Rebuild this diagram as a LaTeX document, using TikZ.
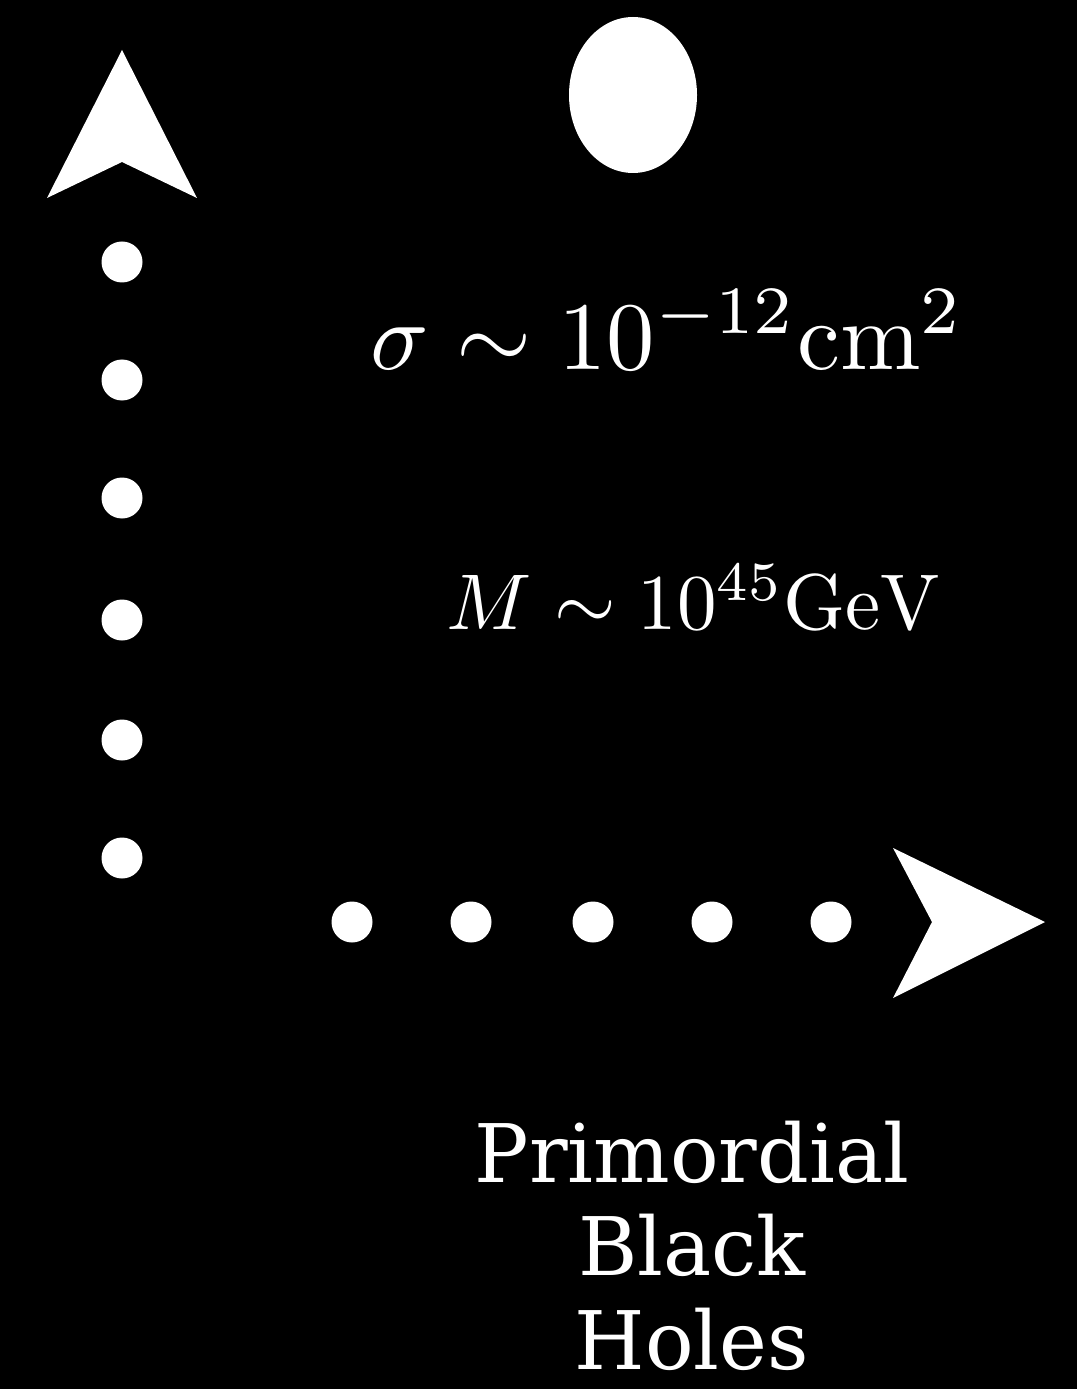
\documentclass[tikz,border=0pt]{standalone}
\usepackage{amsmath,amssymb}
\usepackage{fontspec}
\usetikzlibrary{shapes.geometric}
\newfontfamily\pbhfont{DejaVu Serif}
\begin{document}
\begin{tikzpicture}
\tikzstyle{dot}=[circle,fill=white,inner sep=0pt,minimum size=0.41cm]
\tikzstyle{label}=[text=white,inner sep=0pt,anchor=base,transform shape]
\fill[black] (0,0) rectangle (10.77,-13.89);
\useasboundingbox (0,0) rectangle (10.77,-13.89);
% up arrow head and dots
\fill[white] (1.22,-0.50) -- (1.97,-1.98) -- (1.22,-1.62) -- (0.47,-1.98) -- cycle;
\node[dot] (v1) at (1.22,-2.62) {};
\node[dot] (v2) at (1.22,-3.80) {};
\node[dot] (v3) at (1.22,-4.98) {};
\node[dot] (v4) at (1.22,-6.20) {};
\node[dot] (v5) at (1.22,-7.40) {};
\node[dot] (v6) at (1.22,-8.58) {};
% right arrow head and dots
\node[dot] (h1) at (3.52,-9.22) {};
\node[dot] (h2) at (4.71,-9.22) {};
\node[dot] (h3) at (5.93,-9.22) {};
\node[dot] (h4) at (7.12,-9.22) {};
\node[dot] (h5) at (8.31,-9.22) {};
\fill[white] (10.45,-9.22) -- (8.93,-8.48) -- (9.32,-9.22) -- (8.93,-9.98) -- cycle;
% the black hole
\node[ellipse,fill=white,minimum width=1.28cm,minimum height=1.56cm,inner sep=0pt] (bh) at (6.33,-0.95) {};
\node[label,scale=2.75] (sigma) at (6.675,-3.69) {$\sigma\sim10^{-12}\mathrm{cm}^2$};
\node[label,scale=2.25] (mass) at (6.935,-6.29) {$M\sim10^{45}\mathrm{GeV}$};
\node[label,align=center,font={\pbhfont\fontsize{23}{26.6}\selectfont}] (pbh) at (6.92,-13.69) {Primordial\\Black\\Holes};
\end{tikzpicture}
\end{document}
